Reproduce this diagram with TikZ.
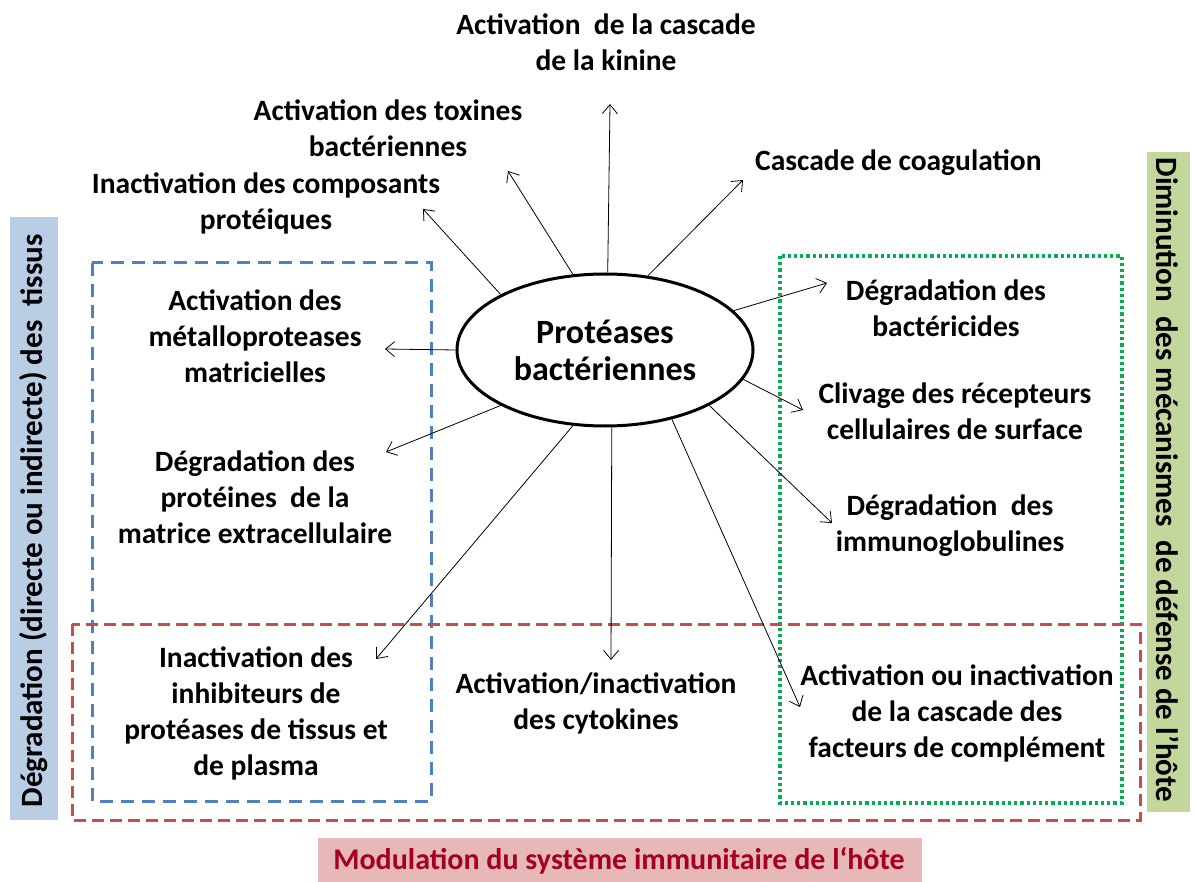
\documentclass[tikz,border=0pt]{standalone}
\usepackage{fontspec}
\setmainfont{Carlito}
\usetikzlibrary{arrows.meta,shapes.geometric}
\definecolor{tisblue}{HTML}{4F81BD}
\definecolor{immred}{HTML}{C0504D}
\definecolor{defgreen}{HTML}{00B050}
\definecolor{tisfill}{HTML}{B9CDE5}
\definecolor{deffill}{HTML}{C3D69B}
\definecolor{immfill}{HTML}{E6B9B8}
\definecolor{immtext}{HTML}{A50021}
\begin{document}
\begin{tikzpicture}[x=1pt, y=-1pt,
    >={Straight Barb[length=9pt,width=15pt]},
    lbl/.style={align=center, inner sep=0pt, font=\fontsize{29.5}{36}\selectfont\bfseries},
    sidelbl/.style={inner sep=0pt, font=\fontsize{31}{36}\selectfont\bfseries}]
    \useasboundingbox (0,0) rectangle (1193,882);

    % Side labels
    \fill[tisfill] (10,217) rectangle (58,820);
    \node[sidelbl, rotate=90] (tissus) at (34,521) {Dégradation (directe ou indirecte) des\ \ tissus};
    \fill[deffill] (1147,152) rectangle (1190,812);
    \node[sidelbl, rotate=-90] (defense) at (1168,480) {Diminution\ \ des mécanismes\ \ de défense de l’hôte};
    \fill[immfill] (318,838) rectangle (922,882);
    \node[sidelbl, font=\fontsize{30}{36}\selectfont\bfseries, text=immtext] (immun) at (619,861) {Modulation du système immunitaire de l‘hôte};

    % Group frames
    \draw[tisblue, line width=3pt, dash pattern=on 13pt off 8pt] (92,263) rectangle (431,801);
    \draw[defgreen, line width=3.2pt, dash pattern=on 3.2pt off 3pt] (780,256) rectangle (1122,803);
    \draw[immred, line width=3pt, dash pattern=on 12pt off 6pt] (72,624) rectangle (1140,820);

    % Central enzyme
    \node[ellipse, draw, line width=3pt, minimum width=296pt, minimum height=152pt, inner sep=0pt,
          align=center, font=\fontsize{34}{37}\selectfont\bfseries] (prot) at (605,350) {Protéases\\bactériennes};

    % Effects
    \node[lbl] (kinine) at (606,42) {Activation\ \ de la cascade\\de la kinine};
    \node[lbl] (toxines) at (388,128) {Activation des toxines\\bactériennes};
    \node[lbl] (composants) at (266,203) {Inactivation des composants\\protéiques};
    \node[lbl, anchor=west] (coag) at (755,163) {Cascade de coagulation};
    \node[lbl] (metallo) at (255,336) {Activation des\\métalloproteases\\matricielles};
    \node[lbl] (matrice) at (255,497) {Dégradation des\\protéines\ \ de la\\matrice extracellulaire};
    \node[lbl] (inhib) at (256,713) {Inactivation des\\inhibiteurs de\\protéases de tissus et\\de plasma};
    \node[lbl] (cytok) at (596,703) {Activation/inactivation\\des cytokines};
    \node[lbl] (compl) at (957,713) {Activation ou inactivation\\de la cascade des\\facteurs de complément};
    \node[lbl] (immuno) at (950,526) {Dégradation\ \ des\\immunoglobulines};
    \node[lbl] (clivage) at (955,411) {Clivage des récepteurs\\cellulaires de surface};
    \node[lbl] (bactc) at (946,308) {Dégradation des\\bactéricides};

    % Arrow tips
    \coordinate (tKin) at (610,104);
    \coordinate (tTox) at (508,171);
    \coordinate (tComp) at (423,209);
    \coordinate (tCoag) at (743,180);
    \coordinate (tMet) at (385,349);
    \coordinate (tMat) at (386,452);
    \coordinate (tInh) at (376,659);
    \coordinate (tCyt) at (611,660);
    \coordinate (tCpl) at (800,707);
    \coordinate (tImm) at (832,523);
    \coordinate (tCli) at (803,410);
    \coordinate (tBac) at (827,283);

    % Arrows out of the ellipse
    \foreach \a/\t in {88/tKin, 113/tTox, 152/tComp, 60/tCoag, 180/tMet, 208/tMat,
                       247/tInh, 275/tCyt, 314/tCpl, 332/tImm, 348/tCli, 17/tBac} {
        \draw[->, line width=0.8pt] (prot.\a) -- (\t);
    }
\end{tikzpicture}
\end{document}
